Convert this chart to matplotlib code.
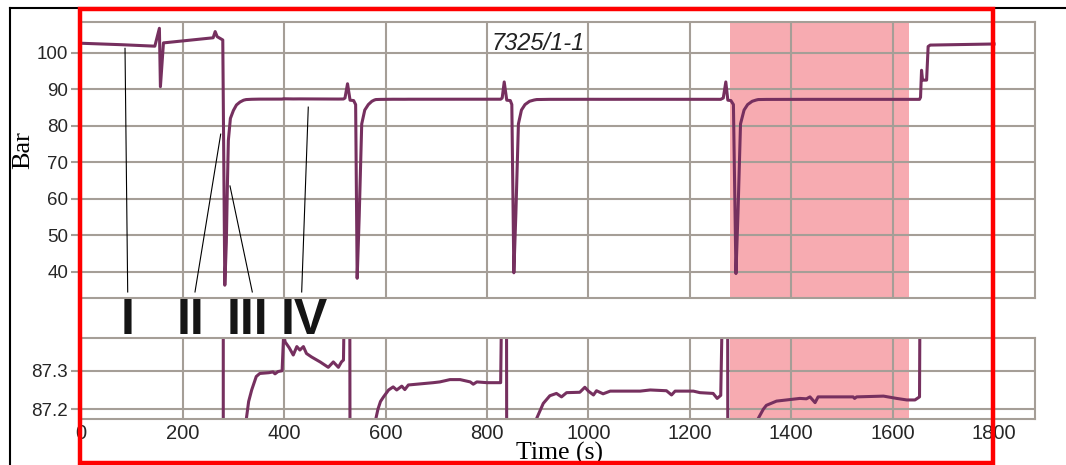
import matplotlib.pyplot as plt
from matplotlib.patches import Rectangle
from matplotlib.lines import Line2D

# pressure trace of well test 7325/1-1
time_s = [0, 80, 145, 154, 156, 162, 260, 264, 268, 274, 279, 283, 286, 288, 290, 294,
          300, 306, 313, 320, 325, 330, 336, 345, 352, 370, 378, 382, 388, 396, 399, 402,
          410, 418, 425, 431, 438, 444, 454, 471, 487, 497, 507, 513, 517, 520, 525, 530,
          537, 541, 544, 548, 553, 559, 566, 573, 578, 581, 585, 590, 596, 606, 615, 622,
          632, 638, 645, 694, 707, 727, 747, 767, 773, 780, 800, 827, 830, 834, 839, 846,
          849, 853, 857, 862, 868, 875, 884, 893, 898, 911, 924, 937, 947, 957, 983, 993,
          1000, 1010, 1016, 1029, 1043, 1102, 1122, 1154, 1164, 1171, 1207, 1220, 1246,
          1254, 1261, 1266, 1271, 1275, 1281, 1286, 1291, 1295, 1300, 1307, 1314, 1323,
          1331, 1335, 1345, 1351, 1371, 1417, 1430, 1437, 1447, 1453, 1522, 1525, 1529,
          1582, 1608, 1628, 1644, 1653, 1655, 1657, 1659, 1667, 1670, 1674, 1800]
pressure_bar = [102.6, 102.2, 101.8, 106.7, 90.7, 102.7, 104.1, 105.8, 104.4, 103.9, 103.5,
                36.3, 48, 63, 76, 82, 84.2, 85.7, 86.5, 87.0, 87.17, 87.22, 87.25, 87.285,
                87.293, 87.295, 87.297, 87.292, 87.298, 87.30, 87.395, 87.375, 87.36, 87.341,
                87.363, 87.354, 87.363, 87.345, 87.336, 87.323, 87.309, 87.323, 87.309,
                87.323, 87.328, 87.6, 91.5, 87.0, 86.9, 85.8, 38.2, 55, 80.5, 84.3, 85.8,
                86.7, 87.05, 87.176, 87.2, 87.22, 87.232, 87.25, 87.258, 87.25, 87.26,
                87.251, 87.263, 87.269, 87.271, 87.277, 87.277, 87.271, 87.265, 87.271,
                87.269, 87.269, 87.6, 92.0, 87.0, 86.9, 85.8, 39.7, 56, 80.5, 84.3, 85.8,
                86.7, 87.05, 87.176, 87.215, 87.235, 87.241, 87.232, 87.243, 87.244, 87.257,
                87.247, 87.237, 87.248, 87.240, 87.247, 87.247, 87.250, 87.248, 87.237,
                87.247, 87.247, 87.243, 87.241, 87.228, 87.236, 87.6, 92.0, 87.0, 86.9,
                85.8, 39.5, 56, 80.5, 84.3, 85.8, 86.7, 87.05, 87.176, 87.2, 87.21, 87.221,
                87.228, 87.227, 87.232, 87.217, 87.232, 87.232, 87.228, 87.232, 87.234,
                87.228, 87.224, 87.224, 87.232, 87.8, 95.2, 92.5, 92.5, 101.7, 102.1, 102.4]

shade_start, shade_end = 1280, 1632
x_ticks = [0, 200, 400, 600, 800, 1000, 1200, 1400, 1600, 1800]
top_y_ticks = [40, 50, 60, 70, 80, 90, 100]
zoom_y_ticks = [87.2, 87.3]
zoom_y_labels = ["87.2", "87.3"]

# phase labels with the point each one points at
phase_names = ["I", "II", "III", "IV"]
phase_label_x = [92, 216, 328, 440]
phase_line_start = [(91.5, 34.45), (224.2, 34.45), (337.2, 34.45), (434.6, 34.45)]
phase_line_end = [(86.2, 101.2), (274.9, 77.7), (293.2, 63.5), (447.6, 85.1)]

line_col = "#76305f"
grid_col = "#a59e97"
pink = "#f7abb1"
sans = "Liberation Sans"
serif = "Liberation Serif"

fig = plt.figure(figsize=(10.66, 4.65), dpi=100)
ax = fig.add_axes([0.07627, 0.35978, 0.8943, 0.5935])
ax2 = fig.add_axes([0.07627, 0.1, 0.8943, 0.1725])

for a in (ax, ax2):
    a.axvspan(shade_start, shade_end, color=pink, lw=0, zorder=0.2)
    a.plot(time_s, pressure_bar, color=line_col, lw=2.2, zorder=2)
    a.set_axisbelow(True)
    a.grid(True, color=grid_col, lw=1.5)
    a.set_xlim(0, 1880)
    a.set_xticks(x_ticks)
    for s in a.spines.values():
        s.set_color(grid_col)
        s.set_linewidth(1.5)
    a.tick_params(axis="y", length=7, width=1.5, color=grid_col, pad=2.5,
                  labelsize=13.5, labelcolor="#262626")
    a.tick_params(axis="x", length=0, labelsize=14.5, labelcolor="#262626", pad=4)
    for lab in a.get_xticklabels() + a.get_yticklabels():
        lab.set_fontfamily(sans)

ax.set_ylim(32.88, 108.5)
ax.set_yticks(top_y_ticks)
ax.tick_params(axis="x", labelbottom=False)
ax2.set_ylim(87.1757, 87.3846)
ax2.set_yticks(zoom_y_ticks)
ax2.set_yticklabels(zoom_y_labels, fontfamily=sans)

ax.text(900, 100.74, "7325/1-1", fontsize=17, style="italic", family=sans,
        ha="center", va="baseline", color="#222222")

for name, lx, p0, p1 in zip(phase_names, phase_label_x, phase_line_start, phase_line_end):
    ax.plot([p0[0], p1[0]], [p0[1], p1[1]], color="black", lw=0.8, zorder=3)
    ax.text(lx, 22.85, name, fontsize=36, fontweight="bold", family=sans,
            ha="center", va="baseline", color="#151515", clip_on=False)

fig.text(0.0216, 0.677, "Bar", rotation=90, fontsize=19, family=serif,
         ha="center", va="center")
fig.text(0.5244, 0.0108, "Time (s)", fontsize=18.5, family=serif,
         ha="center", va="baseline")

# frame lines and the red marking box on top of the chart
fig.add_artist(Line2D([0.00966, 0.00966], [0, 0.9832], color="black", lw=1.5,
                      transform=fig.transFigure, zorder=9))
fig.add_artist(Line2D([0.00966, 1], [0.9832, 0.9832], color="black", lw=1.5,
                      transform=fig.transFigure, zorder=9))
fig.add_artist(Rectangle((0.07458, 0.0043), 0.93180 - 0.07458, 0.9802 - 0.0043,
                         fill=False, ec="red", lw=3.2, joinstyle="miter",
                         transform=fig.transFigure, zorder=10))

fig.savefig("out.png", dpi=100)
